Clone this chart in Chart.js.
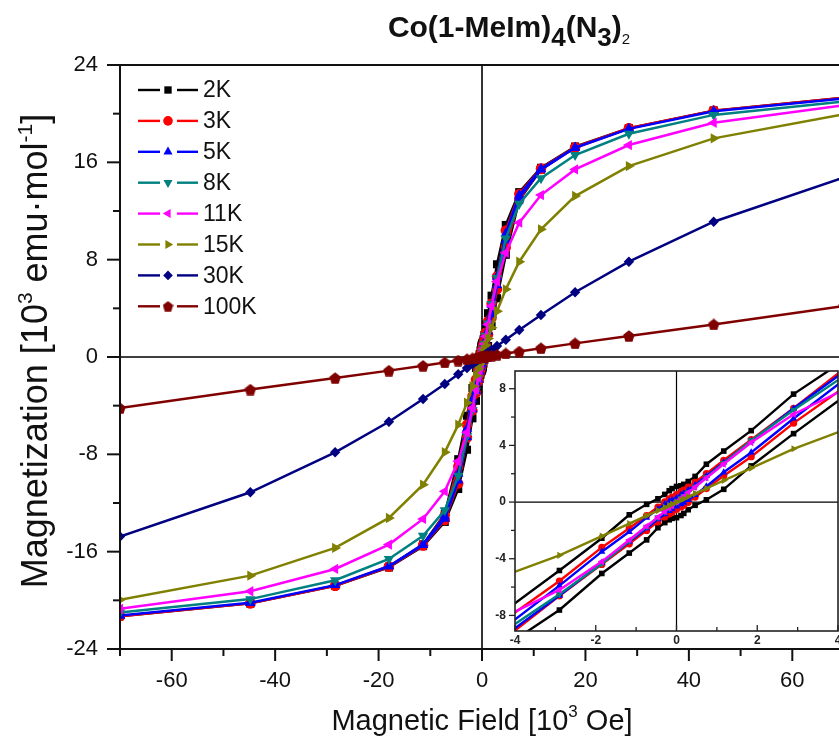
<!DOCTYPE html>
<html><head><meta charset="utf-8">
<script src="https://cdn.jsdelivr.net/npm/chart.js@4.4.0/dist/chart.umd.min.js"></script>
<style>
html,body{margin:0;padding:0;background:#fff;overflow:hidden;width:839px;height:747px;position:relative;}
#main{position:absolute;left:0;top:0;}
#inset{position:absolute;left:470px;top:340px;}
</style></head><body>
<canvas id="main" width="850" height="747"></canvas>
<canvas id="inset" width="380" height="320"></canvas>
<script>
// ---------------- DATA ----------------
const seriesLabels = ['2K','3K','5K','8K','11K','15K','30K','100K'];
const seriesColors = ['#000000','#ff0000','#0000ff','#008080','#ff00ff','#808000','#000080','#800000'];
const seriesMarkers = ['rect','circle','triangle','triangle','triangle','triangle','rectRot','pentagon'];
const seriesRotation = [0,0,0,180,-90,90,0,0];
const insetSeries = ['2K','3K','5K','8K','11K','15K'];

// field sweep 70 -> -70 (10^3 Oe)
const fieldDown = [70,44.8,28.4,18,11.4,7.2,4.6,2.9,1.85,1.17,0.74,0.46,0.29,0.18,0.11,0,-0.11,-0.18,-0.29,-0.46,-0.74,-1.17,-1.85,-2.9,-4.6,-7.2,-11.4,-18,-28.4,-44.8,-70];
// field sweep -70 -> 70
const fieldUp = [-70,-44.8,-28.4,-18,-11.4,-7.2,-4.6,-2.9,-1.85,-1.17,-0.74,-0.46,-0.29,-0.18,-0.11,0,0.11,0.18,0.29,0.46,0.74,1.17,1.85,2.9,4.6,7.2,11.4,18,28.4,44.8,70];

const m2K_down = [21.3,20.25,18.8,17.3,15.55,13.55,10.85,7.62,5.04,3.6,2.67,1.81,1.45,1.25,1.15,1.1,0.95,0.8,0.54,0.23,-0.16,-0.9,-2.55,-4.83,-8.4,-12.9,-15.4,-17.25,-18.8,-20.25,-21.3];
const m2K_up   = [-21.3,-20.25,-18.8,-17.3,-15.55,-13.55,-10.85,-7.62,-5.04,-3.6,-2.67,-1.81,-1.45,-1.25,-1.15,-1.1,-0.95,-0.8,-0.54,-0.23,0.16,0.9,2.55,4.83,8.4,12.9,15.4,17.25,18.8,20.25,21.3];
const m3K_down = [21.3,20.25,18.8,17.25,15.5,13.4,10.4,6.62,4.4,2.95,2.0,1.4,1.05,0.85,0.72,0.52,0.35,0.23,0.02,-0.35,-0.95,-1.85,-3.2,-5.57,-9.0,-13.0,-15.45,-17.2,-18.8,-20.25,-21.3];
const m3K_up   = [-21.3,-20.25,-18.8,-17.25,-15.5,-13.4,-10.4,-6.62,-4.4,-2.95,-2.0,-1.4,-1.05,-0.85,-0.72,-0.52,-0.35,-0.23,-0.02,0.35,0.95,1.85,3.2,5.57,9.0,13.0,15.45,17.2,18.8,20.25,21.3];
const m5K_down = [21.25,20.2,18.75,17.2,15.45,13.3,10.16,6.6,4.3,2.8,1.85,1.2,0.85,0.62,0.5,0.3,0.15,0.05,-0.15,-0.5,-1.1,-2.1,-3.5,-5.9,-9.6,-13.1,-15.4,-17.2,-18.75,-20.2,-21.25];
const m5K_up   = [-21.25,-20.2,-18.75,-17.2,-15.45,-13.3,-10.16,-6.6,-4.3,-2.8,-1.85,-1.2,-0.85,-0.62,-0.5,-0.3,-0.15,-0.05,0.15,0.5,1.1,2.1,3.5,5.9,9.6,13.1,15.4,17.2,18.75,20.2,21.25];
const m8K   = [21.0,19.9,18.35,16.6,14.7,12.6,9.75,6.5,4.35,2.75,1.74,1.08,0.68,0.42,0.26,0,-0.26,-0.42,-0.68,-1.08,-1.74,-2.75,-4.35,-6.5,-9.75,-12.6,-14.7,-16.6,-18.35,-19.9,-21.0];
const m11K  = [20.7,19.25,17.42,15.42,13.31,11.04,8.57,6.2,4.2,2.68,1.7,1.06,0.67,0.41,0.25,0,-0.25,-0.41,-0.67,-1.06,-1.7,-2.68,-4.2,-6.2,-8.57,-11.04,-13.31,-15.42,-17.42,-19.25,-20.7];
const m15K  = [19.95,17.97,15.69,13.23,10.49,7.83,5.56,3.76,2.4,1.52,0.96,0.6,0.38,0.23,0.14,0,-0.14,-0.23,-0.38,-0.6,-0.96,-1.52,-2.4,-3.76,-5.56,-7.83,-10.49,-13.23,-15.69,-17.97,-19.95];
const m30K  = [14.75,11.12,7.83,5.32,3.45,2.22,1.42,0.9,0.58,0.37,0.23,0.145,0.09,0.057,0.035,0,-0.035,-0.057,-0.09,-0.145,-0.23,-0.37,-0.58,-0.9,-1.42,-2.22,-3.45,-5.32,-7.83,-11.12,-14.75];
const m100K = [4.2,2.68,1.73,1.12,0.72,0.45,0.29,0.18,0.115,0.073,0.046,0.029,0.018,0.011,0.007,0,-0.007,-0.011,-0.018,-0.029,-0.046,-0.073,-0.115,-0.18,-0.29,-0.45,-0.72,-1.12,-1.73,-2.68,-4.2];

const xTickLabels = [-60,-40,-20,0,20,40,60];
const yTickLabels = [24,16,8,0,-8,-16,-24];
const insetXTicks = [-4,-2,0,2,4];
const insetYTicks = [8,4,0,-4,-8];

// ---------------- HELPERS ----------------
const FONT = '"Liberation Sans", Arial, Helvetica, sans-serif';
function pts(xs, ys){ return xs.map((x,i)=>({x:x, y:ys[i]})); }
const seriesPoints = [
  pts(fieldDown,m2K_down).concat(pts(fieldUp,m2K_up)),
  pts(fieldDown,m3K_down).concat(pts(fieldUp,m3K_up)),
  pts(fieldDown,m5K_down).concat(pts(fieldUp,m5K_up)),
  pts(fieldDown,m8K),
  pts(fieldDown,m11K),
  pts(fieldDown,m15K),
  pts(fieldDown,m30K),
  pts(fieldDown,m100K)
];
function pentagon(size, color){
  const c=document.createElement('canvas'); c.width=size; c.height=size;
  const g=c.getContext('2d'); const r=size/2; g.fillStyle=color; g.beginPath();
  for(let k=0;k<5;k++){const a=-Math.PI/2+k*2*Math.PI/5; const px=r+r*Math.cos(a), py=r+r*1.05*Math.sin(a)+0.6; if(k===0)g.moveTo(px,py); else g.lineTo(px,py);}
  g.closePath(); g.fill(); return c;
}
function styleFor(i, size){ return seriesMarkers[i]==='pentagon' ? pentagon(size, seriesColors[i]) : seriesMarkers[i]; }
function makeDatasets(radius, lw, pentSize, only){
  const out=[];
  seriesLabels.forEach((lab,i)=>{
    if(only && !only.includes(lab)) return;
    const r = seriesMarkers[i]==='triangle' ? radius*1.15 : (seriesMarkers[i]==='rect' ? radius*1.1 : radius);
    out.push({
      label: lab, data: seriesPoints[i], showLine: true,
      borderColor: seriesColors[i], backgroundColor: seriesColors[i],
      borderWidth: lw, pointRadius: r, pointBorderWidth: 0,
      pointStyle: styleFor(i, pentSize), pointRotation: seriesRotation[i],
      pointBackgroundColor: seriesColors[i], pointBorderColor: seriesColors[i],
      order: 7 - i, tension: 0
    });
  });
  return out;
}
function drawRich(ctx, parts, x, y, align){
  let total=0;
  parts.forEach(p=>{ctx.font=(p.bold?'bold ':'')+p.size+'px '+FONT; p.w=ctx.measureText(p.t).width; total+=p.w;});
  let cx = align==='center' ? x-total/2 : x;
  ctx.textAlign='left'; ctx.textBaseline='alphabetic';
  parts.forEach(p=>{ctx.font=(p.bold?'bold ':'')+p.size+'px '+FONT; ctx.fillText(p.t,cx,y+(p.dy||0)); cx+=p.w;});
}
function line(ctx,x1,y1,x2,y2){ctx.beginPath();ctx.moveTo(x1,y1);ctx.lineTo(x2,y2);ctx.stroke();}

// ---------------- MAIN CHART ----------------
const mainDecor = {
  id:'mainDecor',
  beforeDatasetsDraw(chart){
    const {ctx, chartArea:a, scales:{x,y}} = chart;
    ctx.save(); ctx.strokeStyle='#000'; ctx.lineWidth=1.6;
    const x0=x.getPixelForValue(0), y0=y.getPixelForValue(0);
    line(ctx,x0,a.top,x0,a.bottom); line(ctx,a.left,y0,a.right,y0);
    ctx.restore();
  },
  afterDraw(chart){
    const {ctx, chartArea:a, scales:{x,y}} = chart;
    ctx.save();
    ctx.strokeStyle='#111'; ctx.lineWidth=2;
    ctx.strokeRect(a.left,a.top,a.right-a.left,a.bottom-a.top);
    for(let v=-70; v<=70; v+=10){
      const px=x.getPixelForValue(v); const major = xTickLabels.includes(v);
      line(ctx,px,a.bottom,px,a.bottom+(major?12:7));
    }
    for(let v=-24; v<=24; v+=4){
      const py=y.getPixelForValue(v); const major = yTickLabels.includes(v);
      line(ctx,a.left-(major?13:7),py,a.left,py);
    }
    ctx.fillStyle='#111';
    ctx.font='22px '+FONT; ctx.textAlign='center'; ctx.textBaseline='top';
    xTickLabels.forEach(v=>ctx.fillText(String(v), x.getPixelForValue(v), 670));
    ctx.textAlign='right'; ctx.textBaseline='middle';
    yTickLabels.forEach(v=>ctx.fillText(String(v), 98, y.getPixelForValue(v)));
    // axis titles
    drawRich(ctx,[{t:'Magnetic Field [10',size:29},{t:'3',size:17,dy:-13},{t:' Oe]',size:29}], (a.left+a.right)/2, 730, 'center');
    ctx.save(); ctx.translate(47,351); ctx.rotate(-Math.PI/2);
    drawRich(ctx,[{t:'Magnetization [10',size:36},{t:'3',size:21,dy:-15},{t:' emu\u00b7mol',size:36},{t:'-1',size:21,dy:-15},{t:']',size:36}], 0, 0, 'center');
    ctx.restore();
    // title
    drawRich(ctx,[{t:'Co(1-MeIm)',size:30,bold:true},{t:'4',size:26,bold:true,dy:9},{t:'(N',size:30,bold:true},{t:'3',size:26,bold:true,dy:9},{t:')',size:30,bold:true},{t:'2',size:15,dy:7}], 509, 37, 'center');
    // legend
    seriesLabels.forEach((lab,i)=>{
      const ly = 90 + i*30.9;
      ctx.strokeStyle=seriesColors[i]; ctx.lineWidth=2.4;
      line(ctx,138,ly,160,ly); line(ctx,177,ly,198,ly);
      ctx.fillStyle=seriesColors[i]; ctx.strokeStyle=seriesColors[i];
      const rr = seriesMarkers[i]==='triangle' ? 5.2 : (seriesMarkers[i]==='rect'?5.2:4.8);
      Chart.helpers.drawPoint(ctx,{pointStyle:styleFor(i,11),rotation:seriesRotation[i],radius:rr,borderWidth:0},168,ly);
      ctx.fillStyle='#111'; ctx.font='23px '+FONT; ctx.textAlign='left'; ctx.textBaseline='middle';
      ctx.fillText(lab,203,ly+1);
    });
    ctx.restore();
  }
};

new Chart(document.getElementById('main'), {
  type:'scatter',
  data:{datasets: makeDatasets(5.2, 2.5, 12)},
  options:{
    responsive:false, animation:false, events:[], devicePixelRatio:1,
    layout:{padding:{left:0,top:65,right:5,bottom:0}},
    plugins:{legend:{display:false},tooltip:{enabled:false},title:{display:false}},
    scales:{
      x:{type:'linear',min:-70,max:70,ticks:{display:false},grid:{display:false,drawTicks:false},border:{display:false},
         afterFit(s){s.height=98;}},
      y:{type:'linear',min:-24,max:24,ticks:{display:false},grid:{display:false,drawTicks:false},border:{display:false},
         afterFit(s){s.width=120;}}
    }
  },
  plugins:[mainDecor]
});

// ---------------- INSET ----------------
const insetDecor = {
  id:'insetDecor',
  beforeDraw(chart){
    const {ctx, chartArea:a} = chart;
    ctx.save(); ctx.fillStyle='#fff'; ctx.fillRect(a.left,a.top,a.right-a.left,a.bottom-a.top); ctx.restore();
  },
  beforeDatasetsDraw(chart){
    const {ctx, chartArea:a, scales:{x,y}} = chart;
    ctx.save(); ctx.strokeStyle='#000'; ctx.lineWidth=1.2;
    const x0=x.getPixelForValue(0), y0=y.getPixelForValue(0);
    line(ctx,x0,a.top,x0,a.bottom); line(ctx,a.left,y0,a.right,y0);
    ctx.restore();
  },
  afterDraw(chart){
    const {ctx, chartArea:a, scales:{x,y}} = chart;
    ctx.save(); ctx.strokeStyle='#222'; ctx.lineWidth=1.6;
    ctx.strokeRect(a.left,a.top,a.right-a.left,a.bottom-a.top);
    ctx.lineWidth=1.3;
    for(let v=-4; v<=4; v+=1){
      const px=x.getPixelForValue(v); const major=insetXTicks.includes(v);
      line(ctx,px,a.bottom,px,a.bottom-(major?6:4));
    }
    for(let v=-8; v<=8; v+=2){
      const py=y.getPixelForValue(v); const major=insetYTicks.includes(v);
      line(ctx,a.left-(major?6:4),py,a.left,py);
    }
    ctx.fillStyle='#222'; ctx.font='bold 12px '+FONT;
    ctx.textAlign='center'; ctx.textBaseline='top';
    insetXTicks.forEach(v=>ctx.fillText(String(v), x.getPixelForValue(v), a.bottom+4));
    ctx.textAlign='right'; ctx.textBaseline='middle';
    insetYTicks.forEach(v=>ctx.fillText(String(v), a.left-9, y.getPixelForValue(v)));
    ctx.restore();
  }
};

new Chart(document.getElementById('inset'), {
  type:'scatter',
  data:{datasets: makeDatasets(3.6, 2.4, 9, insetSeries)},
  options:{
    responsive:false, animation:false, events:[], devicePixelRatio:1,
    layout:{padding:{left:0,top:31,right:12,bottom:0}},
    plugins:{legend:{display:false},tooltip:{enabled:false},title:{display:false}},
    scales:{
      x:{type:'linear',min:-4,max:4,ticks:{display:false},grid:{display:false,drawTicks:false},border:{display:false},
         afterFit(s){s.height=29;}},
      y:{type:'linear',min:-9.1,max:9.25,ticks:{display:false},grid:{display:false,drawTicks:false},border:{display:false},
         afterFit(s){s.width=45;}}
    }
  },
  plugins:[insetDecor]
});
</script>
</body></html>
